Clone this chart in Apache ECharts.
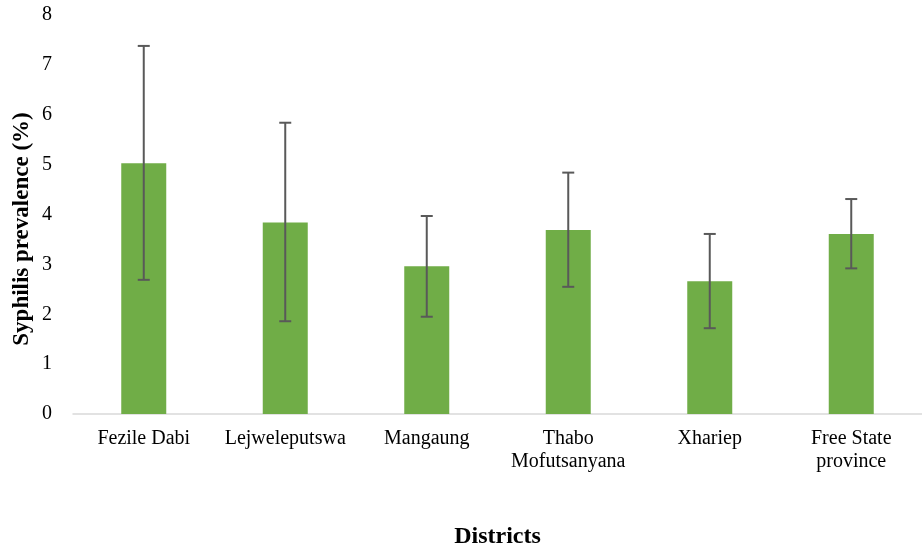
<!DOCTYPE html>
<html>
<head>
<meta charset="utf-8">
<script src="https://cdn.jsdelivr.net/npm/echarts@6/dist/echarts.min.js"></script>
<style>
html,body{margin:0;padding:0;background:#fff;}
#chart{width:922px;height:554px;}
</style>
</head>
<body>
<div id="chart"></div>
<script>
const categories = ['Fezile Dabi', 'Lejweleputswa', 'Mangaung', 'Thabo\nMofutsanyana', 'Xhariep', 'Free State\nprovince'];
const prevalence = [5.03, 3.84, 2.96, 3.69, 2.66, 3.61];
const lowerCI = [2.69, 1.86, 1.95, 2.55, 1.72, 2.92];
const upperCI = [7.38, 5.84, 3.97, 4.84, 3.61, 4.31];
const yTicks = [0, 1, 2, 3, 4, 5, 6, 7, 8];
const yTitle = 'Syphilis prevalence (%)';
const xTitle = 'Districts';

const font = '"Liberation Serif", "Times New Roman", serif';
const chart = echarts.init(document.getElementById('chart'));
const errData = categories.map((c, i) => [i, lowerCI[i], upperCI[i]]);

chart.setOption({
  animation: false,
  grid: { left: 73, top: 15, height: 413, width: 863 },
  graphic: [{
    type: 'text',
    x: 22, y: 229,
    rotation: Math.PI / 2,
    style: {
      text: yTitle, fill: '#000', fontFamily: font, fontSize: 23, fontWeight: 'bold',
      textAlign: 'center', textVerticalAlign: 'middle'
    }
  }],
  xAxis: {
    type: 'category',
    data: categories,
    axisLine: { show: true, lineStyle: { color: '#D9D9D9', width: 1.5 } },
    axisTick: { show: false },
    axisLabel: { color: '#000', fontFamily: font, fontSize: 20, lineHeight: 23, margin: 13, interval: 0 },
    name: xTitle,
    nameLocation: 'middle',
    nameGap: 111,
    nameTextStyle: { color: '#000', fontFamily: font, fontSize: 24, fontWeight: 'bold' }
  },
  yAxis: {
    type: 'value',
    min: yTicks[0],
    max: yTicks[yTicks.length - 1],
    interval: 1,
    axisLine: { show: false },
    axisTick: { show: false },
    splitLine: { show: false },
    axisLabel: { color: '#000', fontFamily: font, fontSize: 20, margin: 21 }
  },
  series: [
    {
      type: 'bar',
      data: prevalence,
      barWidth: 45,
      itemStyle: { color: '#70AD47' }
    },
    {
      type: 'custom',
      data: errData,
      z: 10,
      renderItem: function (params, api) {
        const x = api.value(0);
        const lo = api.coord([x, api.value(1)]);
        const hi = api.coord([x, api.value(2)]);
        const hw = 6;
        const style = { stroke: '#595959', lineWidth: 2 };
        return {
          type: 'group',
          children: [
            { type: 'line', shape: { x1: lo[0], y1: lo[1], x2: hi[0], y2: hi[1] }, style: style },
            { type: 'line', shape: { x1: hi[0] - hw, y1: hi[1], x2: hi[0] + hw, y2: hi[1] }, style: style },
            { type: 'line', shape: { x1: lo[0] - hw, y1: lo[1], x2: lo[0] + hw, y2: lo[1] }, style: style }
          ]
        };
      }
    }
  ]
});
</script>
</body>
</html>
